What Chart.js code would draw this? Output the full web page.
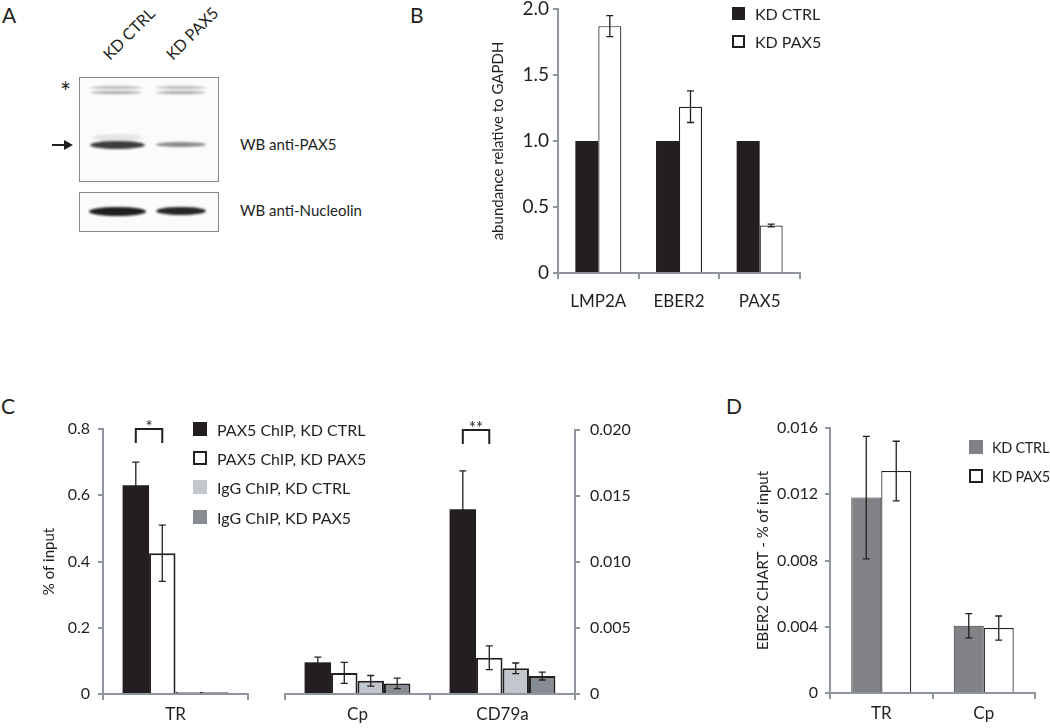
<!DOCTYPE html>
<html>
<head>
<meta charset="utf-8">
<script src="https://cdn.jsdelivr.net/npm/chart.js@4.4.1/dist/chart.umd.min.js"></script>
<style>
  body { margin: 0; background: #fff; font-family: Lato, sans-serif; color: #231f20; }
  #page { position: relative; width: 1050px; height: 728px; overflow: hidden; }
  .abs { position: absolute; }
  .letter { position: absolute; font-size: 21px; line-height: 1; }
  .leg { position: absolute; white-space: nowrap; display: flex; align-items: center; }
  .sw { display: inline-block; box-sizing: border-box; margin-right: 10px; }
  .blot { position: absolute; border: 1px solid #8a8a8a; box-sizing: border-box; background: #fbfbfb; }
  .band { position: absolute; border-radius: 50%; filter: blur(1.2px); }
  .rot { position: absolute; font-size: 16px; line-height: 19px; color: #231f20; transform: rotate(-45deg); transform-origin: left bottom; white-space: nowrap; }
  .wb { position: absolute; font-size: 15px; white-space: nowrap; }
</style>
</head>
<body>
<div id="page">
  <!-- panel letters -->
  <div class="letter" style="left:2px;top:4px;">A</div>
  <div class="letter" style="left:410px;top:4px;">B</div>
  <div class="letter" style="left:1px;top:395px;">C</div>
  <div class="letter" style="left:726px;top:395px;">D</div>

  <!-- panel A: western blot -->
  <div class="rot" style="left:112px;top:44px;">KD CTRL</div>
  <div class="rot" style="left:175px;top:44px;">KD PAX5</div>
  <div class="blot" style="left:79px;top:77px;width:140px;height:105px;">
    <div class="band" style="left:10px;top:8px;width:52px;height:3px;background:#b9b9b9;"></div>
    <div class="band" style="left:10px;top:13px;width:52px;height:3px;background:#a9a9a9;"></div>
    <div class="band" style="left:76px;top:8px;width:50px;height:3px;background:#b9b9b9;"></div>
    <div class="band" style="left:76px;top:13px;width:50px;height:3px;background:#a9a9a9;"></div>
    <div class="band" style="left:12px;top:56px;width:50px;height:7px;background:#e4e4e4;"></div>
    <div class="band" style="left:10px;top:63px;width:55px;height:8px;background:#3d3d3d;"></div>
    <div class="band" style="left:76px;top:64px;width:50px;height:5px;background:#8a8a8a;"></div>
  </div>
  <div class="blot" style="left:79px;top:192px;width:140px;height:40px;">
    <div class="band" style="left:9px;top:14px;width:57px;height:9px;background:#1e1e1e;"></div>
    <div class="band" style="left:76px;top:14px;width:50px;height:8px;background:#262626;"></div>
  </div>
  <div class="abs" style="left:60px;top:79px;font-size:26px;line-height:26px;color:#231f20;">*</div>
  <div class="abs" style="left:52px;top:144px;width:14px;height:2px;background:#231f20;"></div>
  <div class="abs" style="left:64px;top:140px;width:0;height:0;border-top:5px solid transparent;border-bottom:5px solid transparent;border-left:9px solid #231f20;"></div>
  <div class="wb" style="left:240px;top:135px;">WB anti-PAX5</div>
  <div class="wb" style="left:240px;top:201px;">WB anti-Nucleolin</div>

  <!-- panel B -->
  <div class="abs" style="left:440px;top:0px;"><canvas id="chartB" width="380" height="320"></canvas></div>
  <div id="legB" class="abs" style="left:732px;top:0px;"></div>

  <!-- panel C -->
  <div class="abs" style="left:0px;top:400px;"><canvas id="chartC1" width="260" height="328"></canvas></div>
  <div class="abs" style="left:265px;top:400px;"><canvas id="chartC2" width="380" height="328"></canvas></div>
  <div id="legC" class="abs" style="left:193px;top:0px;"></div>

  <!-- panel D -->
  <div class="abs" style="left:735px;top:400px;"><canvas id="chartD" width="315" height="328"></canvas></div>
  <div id="legD" class="abs" style="left:969px;top:0px;width:80px;"></div>
</div>

<script>
// ---------- data ----------
// B: abundance relative to GAPDH
const bCategories = ['LMP2A', 'EBER2', 'PAX5'];
const bSeries = ['KD CTRL', 'KD PAX5'];
const bCtrl = [1.0, 1.0, 1.0];
const bPax5 = [1.87, 1.26, 0.36];
const bPax5Err = [0.08, 0.12, 0.01];
const bTickLabels = ['0', '0.5', '1.0', '1.5', '2.0'];

// C: % of input (TR on left axis, Cp / CD79a on right axis)
const cSeries = ['PAX5 ChIP, KD CTRL', 'PAX5 ChIP, KD PAX5', 'IgG ChIP, KD CTRL', 'IgG ChIP, KD PAX5'];
const cLeftCategories = ['TR'];
const cLeftValues = [[0.63], [0.425], [0.006], [0.005]];
const cLeftErrors = [[0.07], [0.085], [0], [0]];
const cLeftTickLabels = ['0', '0.2', '0.4', '0.6', '0.8'];
const cRightCategories = ['Cp', 'CD79a'];
const cRightValues = [[0.0024, 0.0140], [0.0016, 0.00275], [0.0010, 0.00195], [0.0008, 0.00136]];
const cRightErrors = [[0.0004, 0.0029], [0.0008, 0.0009], [0.0004, 0.0004], [0.0004, 0.0003]];
const cRightTickLabels = ['0', '0.005', '0.010', '0.015', '0.020'];

// D: EBER2 CHART - % of input
const dCategories = ['TR', 'Cp'];
const dSeries = ['KD CTRL', 'KD PAX5'];
const dCtrl = [0.0118, 0.00406];
const dPax5 = [0.0134, 0.00392];
const dCtrlErr = [0.0037, 0.00073];
const dPax5Err = [0.0018, 0.00073];
const dTickLabels = ['0', '0.004', '0.008', '0.012', '0.016'];

// ---------- styling ----------
const INK = '#231f20';
const AXIS = '#8e959c';
const FONT = 'Lato';

// error bars drawn from dataset.errors through the y scale
const errorBars = {
  id: 'errorBars',
  afterDatasetsDraw(chart) {
    const ctx = chart.ctx;
    const yScale = chart.scales.y;
    ctx.save();
    ctx.strokeStyle = INK;
    ctx.lineWidth = 1.3;
    chart.data.datasets.forEach((ds, i) => {
      if (!ds.errors) return;
      chart.getDatasetMeta(i).data.forEach((bar, j) => {
        const e = ds.errors[j];
        if (!e) return;
        const v = ds.data[j];
        const yTop = yScale.getPixelForValue(v + e);
        const yBot = yScale.getPixelForValue(v - e);
        ctx.beginPath();
        ctx.moveTo(bar.x, yTop); ctx.lineTo(bar.x, yBot);
        ctx.moveTo(bar.x - 3.5, yTop); ctx.lineTo(bar.x + 3.5, yTop);
        ctx.moveTo(bar.x - 3.5, yBot); ctx.lineTo(bar.x + 3.5, yBot);
        ctx.stroke();
      });
    });
    ctx.restore();
  }
};

// significance brackets between two bars of one category
const sigBrackets = {
  id: 'sigBrackets',
  afterDatasetsDraw(chart, args, opts) {
    if (!opts.items) return;
    const ctx = chart.ctx;
    const yScale = chart.scales.y;
    ctx.save();
    ctx.strokeStyle = INK;
    ctx.lineWidth = 2;
    ctx.fillStyle = INK;
    ctx.font = '17px ' + FONT;
    ctx.textAlign = 'center';
    ctx.textBaseline = 'alphabetic';
    opts.items.forEach(it => {
      const x1 = chart.getDatasetMeta(it.a).data[it.index].x;
      const x2 = chart.getDatasetMeta(it.b).data[it.index].x;
      const yTop = yScale.getPixelForValue(it.level);
      ctx.beginPath();
      ctx.moveTo(x1, yTop + 14); ctx.lineTo(x1, yTop);
      ctx.lineTo(x2, yTop); ctx.lineTo(x2, yTop + 14);
      ctx.stroke();
      ctx.fillText(it.text, (x1 + x2) / 2, yTop + 4);
    });
    ctx.restore();
  }
};

function fixSize(w, h) {
  return function (scale) {
    if (w !== null) scale.width = w;
    if (h !== null) scale.height = h;
    scale.paddingTop = 0; scale.paddingBottom = 0;
    scale.paddingLeft = 0; scale.paddingRight = 0;
  };
}

function xAxis(height, fontSize, pad) {
  return {
    grid: { drawOnChartArea: false, color: AXIS, lineWidth: 2, tickLength: 6 },
    border: { color: AXIS, width: 2 },
    ticks: { color: INK, font: { family: FONT, size: fontSize }, padding: pad, maxRotation: 0 },
    afterFit: fixSize(null, height)
  };
}

function yAxis(opts) {
  return {
    position: opts.position || 'left',
    min: 0, max: opts.max,
    grid: { drawOnChartArea: false, color: AXIS, lineWidth: 2, tickLength: 5 },
    border: { color: AXIS, width: 2 },
    ticks: {
      stepSize: opts.max / (opts.labels.length - 1),
      color: INK, font: { family: FONT, size: opts.fontSize }, padding: opts.pad,
      callback: (v, i) => opts.labels[i]
    },
    title: opts.title ? {
      display: true, text: opts.title, color: INK,
      font: { family: FONT, size: opts.titleSize }, padding: { top: opts.titlePad, bottom: 0 }
    } : { display: false },
    afterFit: fixSize(opts.width, null)
  };
}

function baseOptions(padding, scales, extra) {
  return {
    responsive: false,
    animation: false,
    layout: { padding: padding },
    plugins: Object.assign({ legend: { display: false }, tooltip: { enabled: false } }, extra || {}),
    scales: scales
  };
}

// ---------- panel B ----------
new Chart(document.getElementById('chartB'), {
  type: 'bar',
  data: {
    labels: bCategories,
    datasets: [
      { label: bSeries[0], data: bCtrl, backgroundColor: INK, borderWidth: 0,
        categoryPercentage: 0.57, barPercentage: 1 },
      { label: bSeries[1], data: bPax5, errors: bPax5Err, backgroundColor: '#fff', borderColor: INK,
        borderWidth: 1.2, categoryPercentage: 0.57, barPercentage: 1 }
    ]
  },
  options: baseOptions({ left: 0, right: 20, top: 9, bottom: 0 }, {
    x: xAxis(47, 17, 12),
    y: yAxis({ max: 2, labels: bTickLabels, fontSize: 19, pad: 4, width: 118,
               title: 'abundance relative to GAPDH', titleSize: 15, titlePad: 49 })
  }),
  plugins: [errorBars]
});

// ---------- panel C ----------
const cFills = [INK, '#ffffff', '#c2c6cd', '#878c93'];
function cDatasets(values, errors) {
  return cSeries.map((name, i) => ({
    label: name, data: values[i], errors: errors[i],
    backgroundColor: cFills[i], borderColor: INK, borderWidth: i === 0 ? 0 : 2,
    categoryPercentage: 0.73, barPercentage: 1
  }));
}

new Chart(document.getElementById('chartC1'), {
  type: 'bar',
  data: { labels: cLeftCategories, datasets: cDatasets(cLeftValues, cLeftErrors) },
  options: baseOptions({ left: 0, right: 12, top: 29, bottom: 0 }, {
    x: xAxis(34, 17, 4),
    y: yAxis({ max: 0.8, labels: cLeftTickLabels, fontSize: 16, pad: 8, width: 103,
               title: '% of input', titleSize: 15, titlePad: 40 })
  }, { sigBrackets: { items: [{ index: 0, a: 0, b: 1, level: 0.8, text: '*' }] } }),
  plugins: [errorBars, sigBrackets]
});

new Chart(document.getElementById('chartC2'), {
  type: 'bar',
  data: { labels: cRightCategories, datasets: cDatasets(cRightValues, cRightErrors) },
  options: baseOptions({ left: 20, right: 0, top: 30, bottom: 0 }, {
    x: xAxis(34, 17, 4),
    y: yAxis({ position: 'right', max: 0.02, labels: cRightTickLabels, fontSize: 16, pad: 10, width: 70 })
  }, { sigBrackets: { items: [{ index: 1, a: 0, b: 1, level: 0.02, text: '**' }] } }),
  plugins: [errorBars, sigBrackets]
});

// ---------- panel D ----------
new Chart(document.getElementById('chartD'), {
  type: 'bar',
  data: {
    labels: dCategories,
    datasets: [
      { label: dSeries[0], data: dCtrl, errors: dCtrlErr, backgroundColor: '#808285', borderColor: '#3a3a3a',
        borderWidth: 1, categoryPercentage: 0.585, barPercentage: 1 },
      { label: dSeries[1], data: dPax5, errors: dPax5Err, backgroundColor: '#fff', borderColor: INK,
        borderWidth: 1.2, categoryPercentage: 0.585, barPercentage: 1 }
    ]
  },
  options: baseOptions({ left: 0, right: 15, top: 28, bottom: 0 }, {
    x: xAxis(35, 17, 4),
    y: yAxis({ max: 0.016, labels: dTickLabels, fontSize: 16, pad: 7, width: 95,
               title: 'EBER2 CHART - % of input', titleSize: 15, titlePad: 19 })
  }),
  plugins: [errorBars]
});

// ---------- HTML legends ----------
function buildLegend(id, names, swatches, rows, size, fontSize, gap, spacing) {
  const box = document.getElementById(id);
  names.forEach((name, i) => {
    const row = document.createElement('div');
    row.className = 'leg';
    row.style.top = (rows[i] - 10) + 'px';
    row.style.height = '20px';
    row.style.fontSize = fontSize + 'px';
    row.style.letterSpacing = (spacing || 0) + 'px';
    const sw = document.createElement('span');
    sw.className = 'sw';
    sw.style.width = size + 'px';
    sw.style.height = size + 'px';
    sw.style.marginRight = gap + 'px';
    sw.style.background = swatches[i].fill;
    if (swatches[i].border) sw.style.border = '2px solid ' + INK;
    row.appendChild(sw);
    row.appendChild(document.createTextNode(name));
    box.appendChild(row);
  });
}
buildLegend('legB', bSeries, [{ fill: INK }, { fill: '#fff', border: true }], [13, 41], 13, 16, 10);
buildLegend('legC', cSeries, [{ fill: INK }, { fill: '#fff', border: true }, { fill: '#c2c6cd' }, { fill: '#878c93' }],
            [429, 458, 487, 517], 14, 16, 10);
buildLegend('legD', dSeries, [{ fill: '#808285' }, { fill: '#fff', border: true }], [447, 476], 14, 14.5, 9, -0.3);
</script>
</body>
</html>
